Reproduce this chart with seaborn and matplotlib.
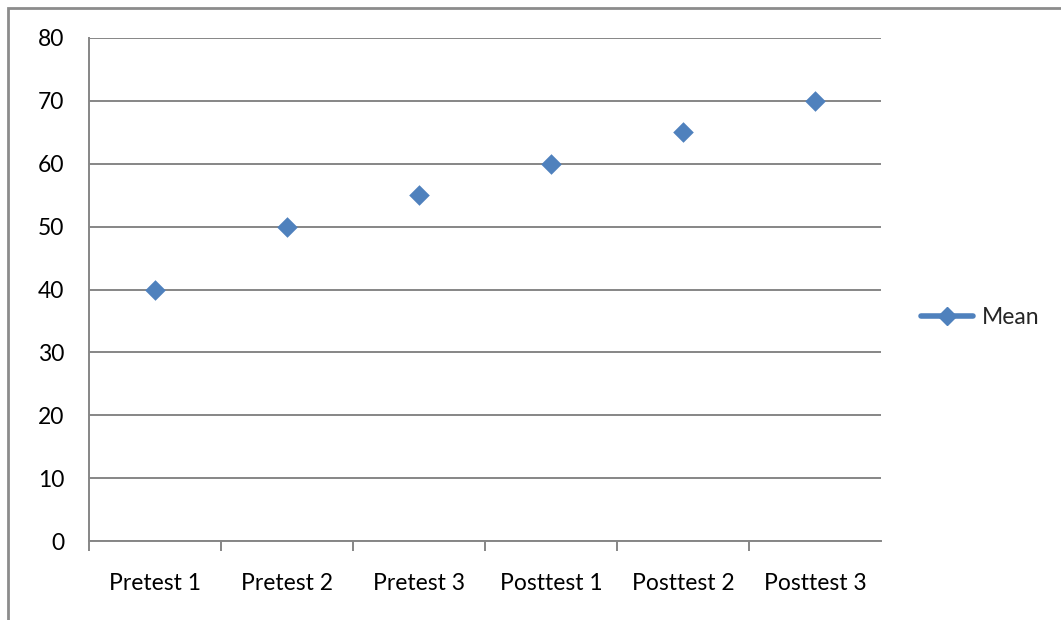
import numpy as np
import pandas as pd
import matplotlib
matplotlib.use("Agg")
import matplotlib.pyplot as plt
import seaborn as sns
from matplotlib.lines import Line2D
from matplotlib.patches import Rectangle

# ---- data ----
tests = ["Pretest 1", "Pretest 2", "Pretest 3", "Posttest 1", "Posttest 2", "Posttest 3"]
mean_scores = [40, 50, 55, 60, 65, 70]
series_name = "Mean"

df = pd.DataFrame({"test": tests, "score": mean_scores})

sns.set_theme(style="white")
plt.rcParams['font.family'] = ['Lato', 'DejaVu Sans']

blue = "#4F81BD"
grid_grey = "#868686"
fs = 16.5

fig = plt.figure(figsize=(10.61, 6.2), dpi=100)
ax = fig.add_axes([89 / 1061, 79 / 620, (881 - 89) / 1061, (541 - 38) / 620])

sns.scatterplot(data=df, x="test", y="score", marker="D", s=110, color=blue,
                edgecolor=blue, linewidth=0, legend=False, ax=ax, zorder=3)

ax.set_xlim(-0.5, len(tests) - 0.5)
ax.set_ylim(0, 80)
ax.set_yticks(np.arange(0, 81, 10))
ax.set_xticks(range(len(tests)))
ax.set_xticklabels(tests)
# category boundary ticks (none at the far right end)
ax.set_xticks(np.arange(-0.5, len(tests) - 1, 1.0), minor=True)
ax.set_xlabel("")
ax.set_ylabel("")

ax.yaxis.grid(True, color=grid_grey, linewidth=1.4)
ax.set_axisbelow(True)
for side in ["top", "right"]:
    ax.spines[side].set_visible(False)
for side in ["left", "bottom"]:
    ax.spines[side].set_color(grid_grey)
    ax.spines[side].set_linewidth(1.4)

ax.tick_params(axis="x", which="major", length=0, pad=23, labelsize=fs, colors="black")
ax.tick_params(axis="x", which="minor", length=7, width=1.4, color=grid_grey, direction="out", bottom=True)
ax.tick_params(axis="y", length=0, pad=18, labelsize=fs, colors="black")

handle = Line2D([], [], color=blue, linewidth=4, marker="D", markersize=9,
                markerfacecolor=blue, markeredgecolor=blue)
fig.legend([handle], [series_name], loc="center left", bbox_to_anchor=(921 / 1061, 1 - 318 / 620),
           frameon=False, fontsize=fs, handlelength=2.25, handletextpad=0.4,
           borderpad=0, borderaxespad=0)

# outer chart border
fig.add_artist(Rectangle((8 / 1061, -0.05), 1.2, 1 - 8 / 620 + 0.05, transform=fig.transFigure,
                         fill=False, edgecolor="#8c8c8c", linewidth=2))

fig.savefig("out.png", dpi=100, facecolor="white")
